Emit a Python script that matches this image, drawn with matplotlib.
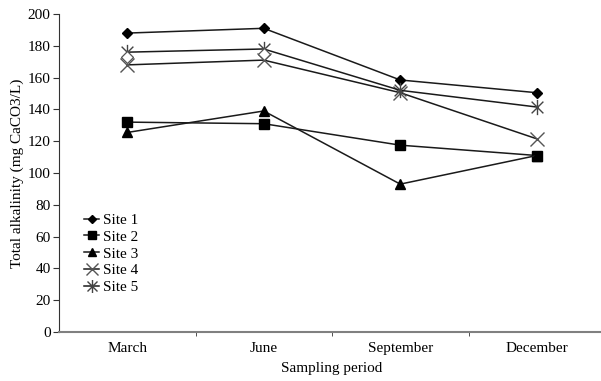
import matplotlib
matplotlib.use("Agg")
import matplotlib.pyplot as plt
from matplotlib.path import Path
import numpy as np

plt.rcParams['font.family'] = ['Liberation Serif', 'DejaVu Serif']

periods = ["March", "June", "September", "December"]
site1 = [188, 191, 158.5, 150.5]
site2 = [132, 131, 117.5, 111]
site3 = [125.5, 139, 93, 111]
site4 = [168, 171, 150.5, 121.5]
site5 = [176, 178, 152, 141.5]
extra_diamond = [173, 175, np.nan, np.nan]
yticks = list(range(0, 201, 20))

star = Path([(-1, -1), (1, 1), (-1, 1), (1, -1), (0, -1.3), (0, 1.3)],
            [Path.MOVETO, Path.LINETO, Path.MOVETO, Path.LINETO, Path.MOVETO, Path.LINETO])

fig = plt.figure(figsize=(6.01, 3.81), dpi=100)
ax = fig.add_axes([59/601, 49/381, 546/601, 318/381])
x = np.arange(len(periods))
lc = '#1a1a1a'
ax.plot(x, site1, color=lc, lw=1.1, marker='D', ms=5, mfc='black', mec='black', label='Site 1')
ax.plot(x, site2, color=lc, lw=1.1, marker='s', ms=7, mfc='black', mec='black', label='Site 2')
ax.plot(x, site3, color=lc, lw=1.1, marker='^', ms=7, mfc='black', mec='black', label='Site 3')
ax.plot(x, site4, color=lc, lw=1.1, marker='x', ms=10, mec='#555555', mew=1.0, label='Site 4')
ax.plot(x, site5, color=lc, lw=1.1, marker=star, ms=11, mec='#444444', mew=1.0, label='Site 5')
ax.plot(x, extra_diamond, ls='none', marker='D', ms=6, mfc='white', mec='#555555', mew=0.9)

ax.set_xlim(-0.5, 3.5)
ax.set_ylim(0, 200)
ax.set_yticks(yticks)
ax.set_xticks(x)
ax.set_xticklabels(periods, fontsize=11)
ax.set_xticks(np.arange(0.5, 3.0, 1.0), minor=True)
ax.tick_params(axis='x', which='major', length=0, pad=7)
ax.tick_params(axis='x', which='minor', length=3, direction='out', color='#333333')
ax.tick_params(axis='y', length=4, direction='out', labelsize=11, color='#333333', pad=2)
for s in ['top', 'right']:
    ax.spines[s].set_visible(False)
ax.spines['bottom'].set_color('#808080')
ax.spines['bottom'].set_linewidth(1.5)
ax.spines['left'].set_color('#333333')
ax.set_xlabel('Sampling period', fontsize=11, labelpad=5)
ax.set_ylabel('Total alkalinity (mg CaCO3/L)', fontsize=11, labelpad=3)

leg = ax.legend(loc='lower left', bbox_to_anchor=(0.035, 0.10), frameon=False, fontsize=11,
                handlelength=1.0, handletextpad=0.2, labelspacing=0.2, borderaxespad=0,
                markerscale=0.85)
fig.savefig('out.png', dpi=100)
